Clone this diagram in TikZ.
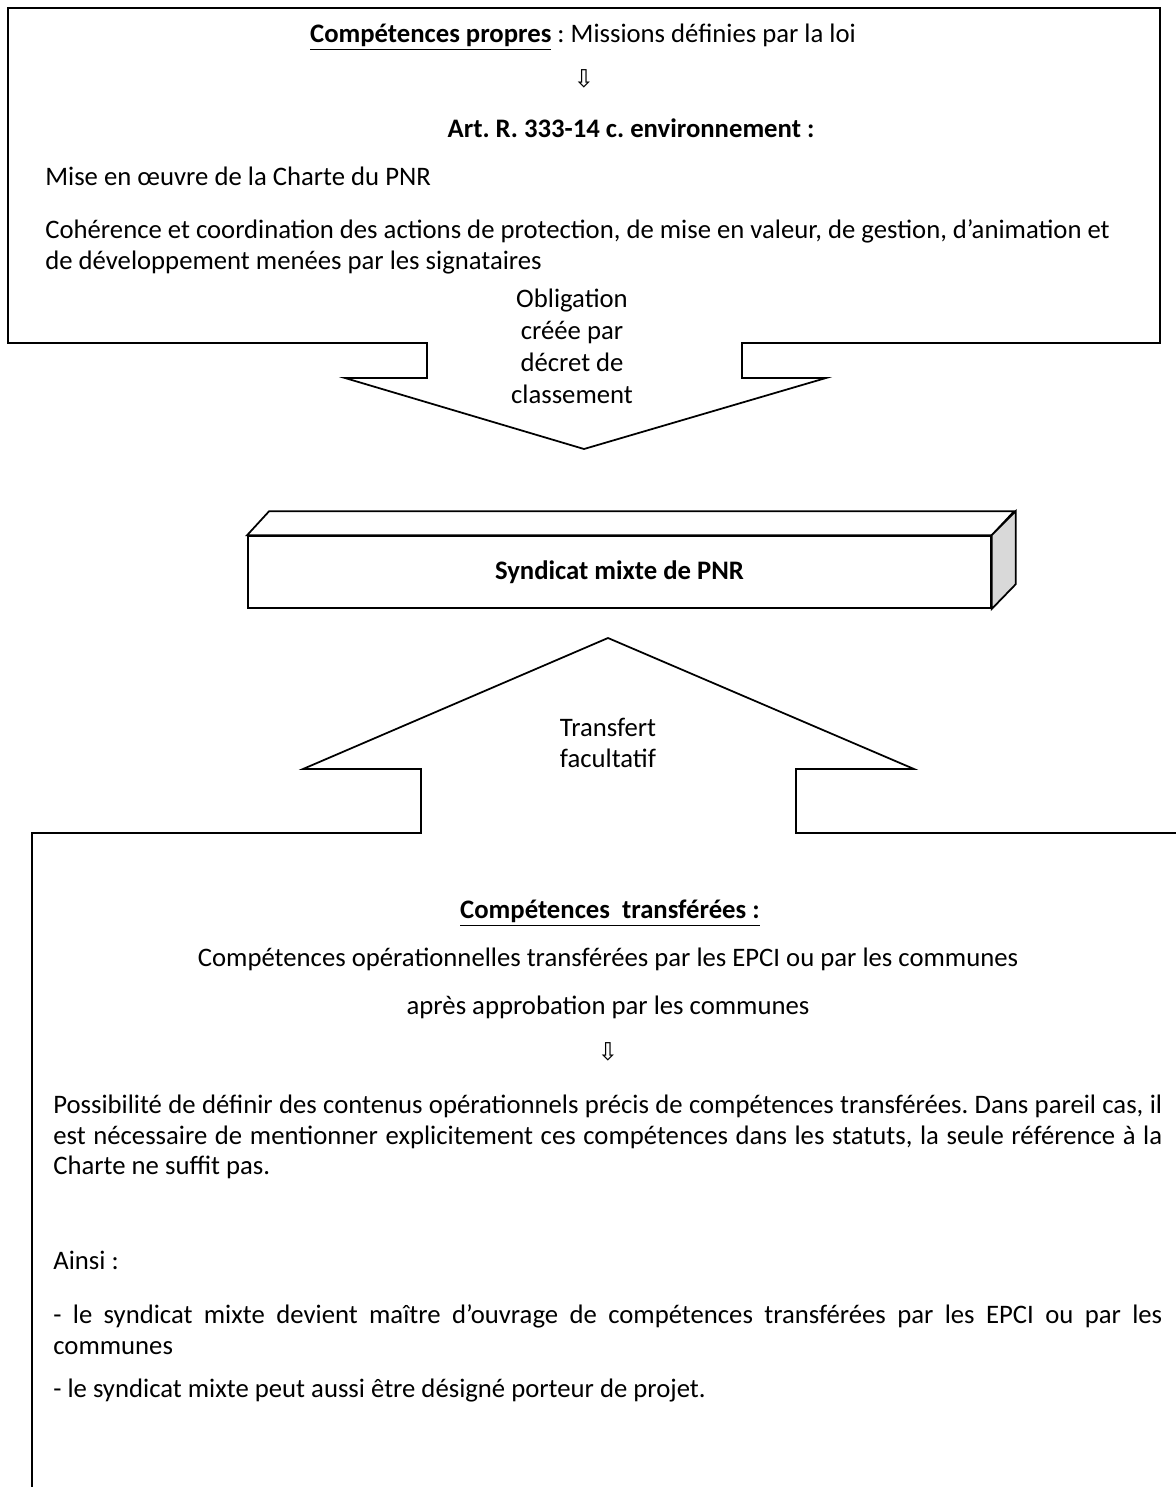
\documentclass[tikz,border=0pt]{standalone}
\usepackage{fontspec}
\setmainfont{Carlito}
\newfontfamily\arrfont{DejaVu Sans}
\usepackage{tikz}

\newcommand{\downarr}{{\arrfont\fontsize{14}{14}\selectfont ⇩}}

\tikzset{
	frame/.style={draw,line width=1pt,line join=miter},
	txt/.style={inner sep=0pt,anchor=mid west},
	ctr/.style={inner sep=0pt,anchor=mid},
	block/.style={inner sep=0pt,anchor=north,align=center},
	para/.style={inner sep=0pt,anchor=north west,text width=22.18cm,align=justify},
}

\begin{document}
\begin{tikzpicture}[x=0.02cm,y=-0.02cm]
\fontsize{15.2}{17.6}\selectfont\frenchspacing
	\useasboundingbox (0,0) rectangle (1176,1487);
	% upper frame and its arrow
	\draw[frame] (8,8) -- (1160,8) -- (1160,343) -- (742,343) -- (742,378) -- (826,378)
		-- (584,449) -- (345,378) -- (427,378) -- (427,343) -- (8,343) -- cycle;
	\draw (583,36)  node[ctr] (own)   {\textbf{\underline{Compétences propres}} : Missions définies par la loi};
	\draw (584,81)  node[ctr] (arr1)  {\downarr};
	\draw (631,131) node[ctr] (art)   {\textbf{Art. R. 333-14 c. environnement :}};
	\draw (45,179)  node[txt] (charte) {Mise en œuvre de la Charte du PNR};
	\draw (45,219)  node[para,text width=22.8cm,align=flush left,font=\fontsize{15.2}{17.6}\selectfont] (coh)
		{Cohérence et coordination des actions de protection, de mise en valeur, de gestion, d’animation et\\
		 de développement menées par les signataires};
	\draw (572,289) node[block,font=\fontsize{15.2}{18.1}\selectfont] (oblig)
		{Obligation\\créée par\\décret de\\classement};
	% syndicat mixte
	\draw (619.5,572) node[draw,line width=1pt,minimum width=14.86cm,minimum height=1.44cm] (syn)
		{\textbf{Syndicat mixte de PNR}};
	\draw[frame] (syn.north west) -- ++(22,-24) -- ++(745,0) -- (syn.north east) -- cycle;
	\draw[frame,fill=gray!30] (syn.north east) -- ++(24,-24) -- ++(0,73) -- (syn.south east) -- cycle;
	% lower frame and its arrow
	\draw[frame] (1176,833) -- (796,833) -- (796,769) -- (914,769) -- (608,638) -- (303,769)
		-- (421,769) -- (421,833) -- (32,833) -- (32,1487);
	\draw (608,718) node[block,font=\fontsize{15.2}{17.6}\selectfont] (transf) {Transfert\\facultatif};
	\draw (610,912)  node[ctr] (tr)    {\textbf{\underline{Compétences\ \ transférées :}}};
	\draw (608,960)  node[ctr] (oper)  {Compétences opérationnelles transférées par les EPCI ou par les communes};
	\draw (608,1008) node[ctr] (appr)  {après approbation par les communes};
	\draw (608,1054) node[ctr] (arr2)  {\downarr};
	\draw (53,1095)  node[para,font=\fontsize{15.2}{17.3}\selectfont] (poss)
		{Possibilité de définir des contenus opérationnels précis de compétences transférées. Dans pareil cas, il\linebreak
		 est nécessaire de mentionner explicitement ces compétences dans les statuts, la seule référence à la\linebreak
		 Charte ne suffit pas.};
	\draw (53,1263)  node[txt] (ainsi) {Ainsi :};
	\draw (53,1304)  node[para,font=\fontsize{15.2}{17.6}\selectfont] (moa)
		{- le syndicat mixte devient maître d’ouvrage de compétences transférées par les EPCI ou par les\linebreak
		 communes};
	\draw (53,1391)  node[txt] (porteur) {- le syndicat mixte peut aussi être désigné porteur de projet.};
\end{tikzpicture}
\end{document}
